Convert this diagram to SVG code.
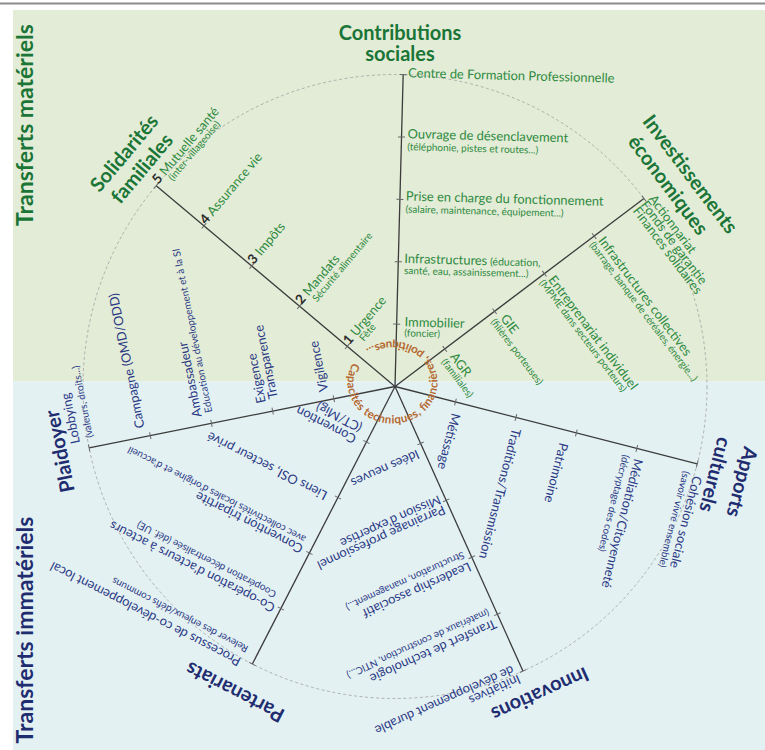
<svg xmlns="http://www.w3.org/2000/svg" width="765" height="750" viewBox="0 0 765 750">
<defs>
<style>
text{font-family:Lato,"Open Sans","Liberation Sans",sans-serif}
.g{fill:#2e8a41;font-size:12.9px}
.gs{fill:#2e8a41;font-size:10px}
.b{fill:#2b3a85;font-size:12.9px}
.bs{fill:#2b3a85;font-size:10px}
.tg{fill:#1a7537;font-size:20px;font-weight:700}
.tb{fill:#1f2d70;font-size:20px;font-weight:700}
.side{font-size:23px}
.n{fill:#2b2b2b;font-weight:700;font-size:13.5px}
.spk{stroke:#3b3b3b;stroke-width:1.3;fill:none}
.tk{stroke:#666;stroke-width:1;fill:none}
.arc{fill:#b5682f;font-size:11.5px;font-weight:700}
</style>
<g id="spoke"><line class="spk" x1="0" y1="0" x2="312" y2="0"/><path class="tk" d="M62.4,-3.5v7M124.8,-3.5v7M187.2,-3.5v7M249.6,-3.5v7M312,-3.5v7"/></g>
<path id="arcpath" d="M353.1,362.6 A45,41 0 1,0 431.9,402.4 A45,41 0 1,0 353.1,362.6"/>
</defs>
<rect width="765" height="750" fill="#fff"/>
<rect x="0" y="2.5" width="765" height="2" fill="#8c8c8c"/>
<rect x="13" y="10" width="752" height="371.5" fill="#e3ecd6"/>
<rect x="13" y="381.5" width="752" height="368.5" fill="#e4f1f3"/>
<text class="tg side" transform="translate(33,125) rotate(-90)" text-anchor="middle">Transferts matériels</text>
<text class="tb side" transform="translate(33,630) rotate(-90)" text-anchor="middle">Transferts immatériels</text>

<g id="connectors">
<circle cx="395" cy="386.5" r="312" fill="none" stroke="#a8a8a8" stroke-width="0.9" stroke-dasharray="3 2.5"/>
<use href="#spoke" transform="translate(395,386.5) rotate(-88.5)"/>
<use href="#spoke" transform="translate(395,386.5) rotate(-37.07)"/>
<use href="#spoke" transform="translate(395,386.5) rotate(14.36)"/>
<use href="#spoke" transform="translate(395,386.5) rotate(65.79)"/>
<use href="#spoke" transform="translate(395,386.5) rotate(117.21)"/>
<use href="#spoke" transform="translate(395,386.5) rotate(168.64)"/>
<use href="#spoke" transform="translate(395,386.5) rotate(220.07)"/>
</g>

<g id="capacites">
<text class="arc"><textPath href="#arcpath" textLength="252" lengthAdjust="spacing">Capacités techniques, financières, politiques...</textPath></text>
</g>

<g id="contributions-sociales">
<text class="tg" x="400" y="40" text-anchor="middle">Contributions</text>
<text class="tg" x="400" y="60.5" text-anchor="middle">sociales</text>
<g transform="translate(395,386.5) rotate(-88.5)">
<text class="g" transform="translate(62.4,0) rotate(90)" x="8" y="2">Immobilier</text>
<text class="gs" transform="translate(62.4,0) rotate(90)" x="8" y="12">(foncier)</text>
<text class="g" transform="translate(124.8,0) rotate(90)" x="6" y="1">Infrastructures<tspan font-size="10.5"> (éducation,</tspan></text>
<text class="gs" transform="translate(124.8,0) rotate(90)" x="6" y="12">santé, eau, assainissement...)</text>
<text class="g" transform="translate(187.2,0) rotate(90)" x="6" y="1">Prise en charge du fonctionnement</text>
<text class="gs" transform="translate(187.2,0) rotate(90)" x="6" y="13">(salaire, maintenance, équipement...)</text>
<text class="g" transform="translate(249.6,0) rotate(90)" x="6" y="1">Ouvrage de désenclavement</text>
<text class="gs" transform="translate(249.6,0) rotate(90)" x="6" y="13">(téléphonie, pistes et routes...)</text>
<text class="g" transform="translate(312,0) rotate(90)" x="5" y="2.5" font-size="12.4">Centre de Formation Professionnelle</text>
</g>
</g>

<g id="investissements-economiques">
<text class="tg" transform="translate(684.8,178.3) rotate(52.9)" text-anchor="middle">Investissements</text>
<text class="tg" transform="translate(662.6,189.3) rotate(52.9)" text-anchor="middle">économiques</text>
<g transform="translate(395,386.5) rotate(-37.07)">
<text class="g" transform="translate(62.4,0) rotate(90)" x="9" y="1">AGR</text>
<text class="gs" transform="translate(62.4,0) rotate(90)" x="8" y="11">(familiales)</text>
<text class="g" transform="translate(124.8,0) rotate(90)" x="9" y="0">GIE</text>
<text class="gs" transform="translate(124.8,0) rotate(90)" x="6" y="10">(filières porteuses)</text>
<text class="g" transform="translate(187.2,0) rotate(90)" x="7" y="1">Entreprenariat individuel</text>
<text class="gs" transform="translate(187.2,0) rotate(90)" x="4" y="10">(MPME dans secteurs porteurs)</text>
<text class="g" transform="translate(249.6,0) rotate(90)" x="6" y="0">Infrastructures collectives</text>
<text class="gs" transform="translate(249.6,0) rotate(90)" x="4" y="9.5">(barrage, banque de céréales, énergie...)</text>
<text class="g" transform="translate(312,0) rotate(90)" x="3" y="-3">Actionnariat</text>
<text class="g" transform="translate(312,0) rotate(90)" x="3" y="7">Fonds de garantie</text>
<text class="g" transform="translate(312,0) rotate(90)" x="3" y="17">Finances solidaires</text>
</g>
</g>

<g id="apports-culturels">
<text class="tb" transform="translate(735.2,480.3) rotate(104.4)" text-anchor="middle">Apports</text>
<text class="tb" transform="translate(708.5,473) rotate(104.4)" text-anchor="middle">culturels</text>
<g transform="translate(395,386.5) rotate(14.36)">
<text class="b" transform="translate(62.4,0) rotate(90)" x="11" y="1">Métissage</text>
<text class="b" transform="translate(124.8,0) rotate(90)" x="11" y="1">Traditions/Transmission</text>
<text class="b" transform="translate(187.2,0) rotate(90)" x="13" y="14">Patrimoine</text>
<text class="b" transform="translate(249.6,0) rotate(90)" x="10" y="0">Médiation/Citoyenneté</text>
<text class="bs" transform="translate(249.6,0) rotate(90)" x="9" y="12">(décryptage des codes)</text>
<text class="b" transform="translate(312,0) rotate(90)" x="12" y="1">Cohésion sociale</text>
<text class="bs" transform="translate(312,0) rotate(90)" x="10" y="12">(savoir vivre ensemble)</text>
</g>
</g>

<g id="innovations">
<text class="tb" transform="translate(537.2,687.8) rotate(155.8)" text-anchor="middle">Innovations</text>
<g transform="translate(395,386.5) rotate(65.79)">
<text class="b" transform="translate(62.4,0) rotate(90)" x="6" y="-4">Idées neuves</text>
<text class="b" transform="translate(124.8,0) rotate(90)" x="5" y="-3">Parrainage professionnel</text>
<text class="b" transform="translate(124.8,0) rotate(90)" x="5" y="8">Mission d'expertise</text>
<text class="b" transform="translate(187.2,0) rotate(90)" x="5" y="-3">Leadership associatif</text>
<text class="bs" transform="translate(187.2,0) rotate(90)" x="6" y="9">Structuration, management...)</text>
<text class="b" transform="translate(249.6,0) rotate(90)" x="5" y="-3">Transfert de technologie</text>
<text class="bs" transform="translate(249.6,0) rotate(90)" x="7" y="9">(matériaux de construction, NTIC...)</text>
<text class="b" transform="translate(312,0) rotate(90)" x="6" y="-1">Initiatives</text>
<text class="b" transform="translate(312,0) rotate(90)" x="8" y="10">de développement durable</text>
</g>
</g>

<g id="partenariats">
<text class="tb" transform="translate(238.1,686) rotate(207.2)" text-anchor="middle">Partenariats</text>
<g transform="translate(395,386.5) rotate(117.21)">
<text class="b" transform="translate(62.4,0) rotate(90)" x="11" y="1">Convention</text>
<text class="b" transform="translate(62.4,0) rotate(90)" x="11" y="14" font-size="11">(CT/Mig)</text>
<text class="b" transform="translate(124.8,0) rotate(90)" x="11" y="0">Liens OSI, secteur privé</text>
<text class="b" transform="translate(187.2,0) rotate(90)" x="8" y="4">Convention tripartite</text>
<text class="bs" transform="translate(187.2,0) rotate(90)" x="10" y="13" font-size="9.2">avec collectivités locales d'origine et d'accueil</text>
<text class="b" transform="translate(249.6,0) rotate(90)" x="6" y="1">Co-opération d'acteurs à acteurs</text>
<text class="bs" transform="translate(249.6,0) rotate(90)" x="11" y="13">Coopération décentralisée (déf. UE)</text>
<text class="b" transform="translate(312,0) rotate(90)" x="12" y="0">Processus de co-développement local</text>
<text class="bs" transform="translate(312,0) rotate(90)" x="11" y="14">Relever des enjeux/défis communs</text>
</g>
</g>

<g id="plaidoyer">
<text class="tb" transform="translate(66.6,449.9) rotate(-101.4)" text-anchor="middle">Plaidoyer</text>
<g transform="translate(395,386.5) rotate(168.64)">
<text class="b" transform="translate(62.4,0) rotate(90)" x="9" y="-4">Vigilence</text>
<text class="b" transform="translate(124.8,0) rotate(90)" x="10" y="-5">Exigence</text>
<text class="b" transform="translate(124.8,0) rotate(90)" x="12" y="7.5">Transparence</text>
<text class="b" transform="translate(187.2,0) rotate(90)" x="9" y="-8">Ambassadeur</text>
<text class="bs" transform="translate(187.2,0) rotate(90)" x="11" y="3">Education au développement et à la SI</text>
<text class="b" transform="translate(249.6,0) rotate(90)" x="9.5" y="-4">Campagne (OMD/ODD)</text>
<text class="b" transform="translate(312,0) rotate(90)" x="7" y="-8">Lobbying</text>
<text class="bs" transform="translate(312,0) rotate(90)" x="10" y="6">(valeurs, droits...)</text>
</g>
</g>

<g id="solidarites-familiales">
<text class="tg" transform="translate(129.5,157.6) rotate(-50)" text-anchor="middle">Solidarités</text>
<text class="tg" transform="translate(147.2,172.9) rotate(-50)" text-anchor="middle">familiales</text>
<g transform="translate(395,386.5) rotate(220.07)">
<text class="g" transform="translate(62.4,0) rotate(90)" x="2" y="1"><tspan class="n">1</tspan> Urgence</text>
<text class="gs" transform="translate(62.4,0) rotate(90)" x="14" y="10">Fête</text>
<text class="g" transform="translate(124.8,0) rotate(90)" x="2" y="1"><tspan class="n">2</tspan> Mandats</text>
<text class="gs" transform="translate(124.8,0) rotate(90)" x="14" y="11">Sécurité alimentaire</text>
<text class="g" transform="translate(187.2,0) rotate(90)" x="2" y="1"><tspan class="n">3</tspan> Impôts</text>
<text class="g" transform="translate(249.6,0) rotate(90)" x="2" y="1"><tspan class="n">4</tspan> Assurance vie</text>
<text class="g" transform="translate(312,0) rotate(90)" x="2" y="1"><tspan class="n">5</tspan> Mutuelle santé</text>
<text class="gs" transform="translate(312,0) rotate(90)" x="14" y="10">(inter-villageoise)</text>
</g>
</g>
</svg>
